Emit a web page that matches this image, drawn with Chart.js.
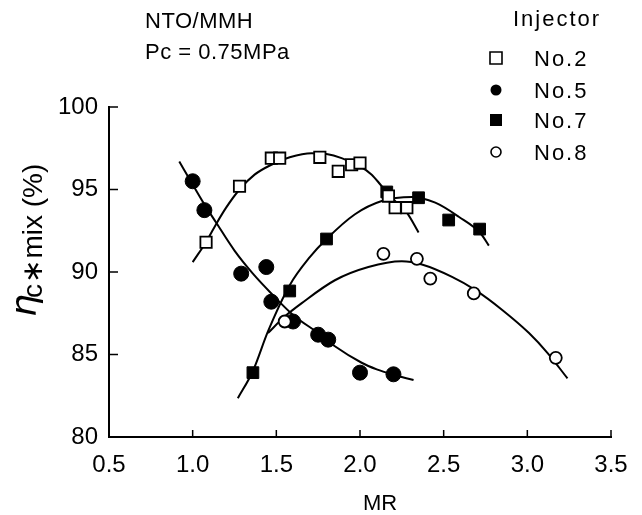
<!DOCTYPE html>
<html lang="en">
<head>
  <meta charset="UTF-8">
  <title>ηc*mix vs MR</title>
  <script src="https://cdn.jsdelivr.net/npm/chart.js"></script>
  <style>
    * { box-sizing: border-box; }
    body { margin: 0; background: #fff; }
    .wrap { width: 642px; height: 515px; }
  </style>
</head>
<body>
  <div class="wrap"><canvas id="grafico" width="642" height="515"></canvas></div>

  <script>
    // ticks
    const xTicks = [0.5, 1.0, 1.5, 2.0, 2.5, 3.0, 3.5];
    const yTicks = [80, 85, 90, 95, 100];

    // measured points per injector (MR, eta)
    const no2MR  = [1.08, 1.28, 1.47, 1.52, 1.76, 1.87, 1.95, 2.00, 2.17, 2.21, 2.28];
    const no2Eta = [91.8, 95.2, 96.9, 96.9, 96.95, 96.1, 96.5, 96.6, 94.6, 93.9, 93.9];

    const no5MR  = [1.00, 1.07, 1.29, 1.44, 1.47, 1.60, 1.75, 1.81, 2.00, 2.20];
    const no5Eta = [95.5, 93.75, 89.9, 90.3, 88.2, 87.0, 86.2, 85.9, 83.9, 83.8];

    const no7MR  = [1.36, 1.58, 1.80, 2.16, 2.35, 2.53, 2.715];
    const no7Eta = [83.9, 88.85, 92.0, 94.85, 94.5, 93.15, 92.6];

    const no8MR  = [1.55, 2.14, 2.34, 2.42, 2.68, 3.17];
    const no8Eta = [87.0, 91.1, 90.8, 89.6, 88.7, 84.8];

    // hand-drawn fit curves
    const fit2MR  = [1.00, 1.085, 1.14, 1.20, 1.28, 1.37, 1.47, 1.58, 1.71, 1.80, 1.89, 2.00, 2.07, 2.13, 2.20, 2.28, 2.35];
    const fit2Eta = [90.6, 91.9, 92.9, 93.9, 95.0, 95.9, 96.5, 96.95, 97.2, 97.15, 96.9, 96.4, 95.9, 95.2, 94.4, 93.6, 92.4];

    const fit5MR  = [0.92, 1.00, 1.07, 1.14, 1.25, 1.36, 1.47, 1.60, 1.75, 1.85, 2.01, 2.10, 2.19, 2.32];
    const fit5Eta = [96.7, 95.3, 94.1, 93.0, 91.3, 89.9, 88.7, 87.4, 86.3, 85.5, 84.5, 84.1, 83.8, 83.45];

    const fit7MR  = [1.27, 1.36, 1.45, 1.58, 1.70, 1.80, 1.97, 2.13, 2.31, 2.45, 2.59, 2.72, 2.77];
    const fit7Eta = [82.35, 84.0, 86.4, 89.2, 90.9, 92.0, 93.5, 94.3, 94.55, 94.2, 93.35, 92.35, 91.6];

    const fit8MR  = [1.45, 1.55, 1.65, 1.85, 2.05, 2.25, 2.37, 2.55, 2.69, 2.85, 3.01, 3.12, 3.24];
    const fit8Eta = [86.3, 87.3, 88.1, 89.5, 90.3, 90.65, 90.45, 89.7, 88.9, 87.7, 86.3, 85.1, 83.55];

    const pares = (xs, ys) => xs.map((v, i) => ({ x: v, y: ys[i] }));

    const fonte = '"Liberation Sans", Arial, sans-serif';

    const curva = (xs, ys) => ({
      type: 'line',
      data: pares(xs, ys),
      borderColor: '#000',
      borderWidth: 2,
      pointRadius: 0,
      cubicInterpolationMode: 'monotone',
      fill: false,
      order: 10
    });

    const pontos = (xs, ys, estilo, raio, cheio, ordem) => ({
      type: 'scatter',
      data: pares(xs, ys),
      pointStyle: estilo,
      pointRadius: raio,
      pointHoverRadius: raio,
      backgroundColor: cheio ? '#000' : '#fff',
      borderColor: '#000',
      borderWidth: cheio ? 1 : 1.8,
      order: ordem
    });

    // texts, legend and inward tick marks
    const extras = {
      id: 'extras',
      afterDatasetsDraw(chart) {
        const { ctx, chartArea: a, scales: { x, y } } = chart;
        ctx.save();
        ctx.strokeStyle = '#000';
        ctx.lineWidth = 1.5;
        ctx.beginPath();
        yTicks.forEach(v => {
          const py = y.getPixelForValue(v);
          ctx.moveTo(a.left, py); ctx.lineTo(a.left + 9, py);
        });
        xTicks.forEach(v => {
          const px = x.getPixelForValue(v);
          ctx.moveTo(px, a.bottom); ctx.lineTo(px, a.bottom - 7);
        });
        ctx.stroke();
        ctx.restore();
      },
      afterDraw(chart) {
        const ctx = chart.ctx;
        ctx.save();
        ctx.fillStyle = '#000';
        ctx.textBaseline = 'alphabetic';
        ctx.textAlign = 'left';

        ctx.font = '22px ' + fonte;
        ctx.letterSpacing = '0.5px';
        ctx.fillText('NTO/MMH', 145, 28);
        ctx.fillText('Pc = 0.75MPa', 145, 59);

        ctx.font = '22px ' + fonte;
        ctx.letterSpacing = '2px';
        ctx.fillText('Injector', 513, 26);

        const linhas = [
          { t: 'No.2', y: 58, tipo: 'sq', cheio: false },
          { t: 'No.5', y: 90, tipo: 'ci', cheio: true },
          { t: 'No.7', y: 120, tipo: 'sq', cheio: true },
          { t: 'No.8', y: 152, tipo: 'ci', cheio: false }
        ];
        linhas.forEach(l => {
          ctx.fillText(l.t, 534, l.y + 8);
          ctx.beginPath();
          if (l.tipo === 'sq') ctx.rect(496 - 6, l.y - 6, 12, 12);
          else ctx.arc(496, l.y, l.cheio ? 5.5 : 5, 0, Math.PI * 2);
          if (l.cheio) { ctx.fill(); }
          else { ctx.lineWidth = 1.6; ctx.stroke(); }
        });

        // x title
        ctx.letterSpacing = '0px';
        ctx.font = '22px ' + fonte;
        ctx.textAlign = 'center';
        ctx.fillText('MR', 380, 510);

        // y title, rotated
        ctx.translate(42, 317);
        ctx.rotate(-Math.PI / 2);
        ctx.textAlign = 'left';
        ctx.font = 'italic 36px "DejaVu Sans", sans-serif';
        ctx.fillText('η', 0, -6);
        let pos = 19;
        ctx.font = '28px ' + fonte;
        ctx.fillText('c', pos, 0);
        pos += ctx.measureText('c').width + 1;
        ctx.font = '28px "DejaVu Sans", sans-serif';
        ctx.fillText('∗', pos, 0);
        pos += ctx.measureText('∗').width + 1;
        ctx.font = '28px ' + fonte;
        ctx.fillText('mix (%)', pos, 0);
        ctx.restore();
      }
    };

    new Chart(document.getElementById('grafico'), {
      data: {
        datasets: [
          curva(fit2MR, fit2Eta),
          curva(fit5MR, fit5Eta),
          curva(fit7MR, fit7Eta),
          curva(fit8MR, fit8Eta),
          pontos(no5MR, no5Eta, 'circle', 7.5, true, 5),
          pontos(no7MR, no7Eta, 'rect', 8.3, true, 4),
          pontos(no8MR, no8Eta, 'circle', 6, false, 2),
          pontos(no2MR, no2Eta, 'rect', 8, false, 1)
        ]
      },
      options: {
        responsive: false,
        animation: false,
        events: [],
        layout: { padding: { top: 107, right: 31, bottom: 0, left: 0 } },
        plugins: {
          legend: { display: false },
          tooltip: { enabled: false }
        },
        scales: {
          x: {
            type: 'linear',
            min: 0.5,
            max: 3.5,
            afterBuildTicks: s => { s.ticks = xTicks.map(v => ({ value: v })); },
            afterFit: s => { s.height = 78; },
            grid: { display: false, drawTicks: false },
            border: { display: true, color: '#000', width: 2 },
            ticks: {
              color: '#000',
              padding: 14,
              maxRotation: 0,
              font: { family: fonte, size: 24 },
              callback: v => Number(v).toFixed(1)
            }
          },
          y: {
            type: 'linear',
            min: 80,
            max: 100,
            afterBuildTicks: s => { s.ticks = yTicks.map(v => ({ value: v })); },
            afterFit: s => { s.width = 109; },
            grid: { display: false, drawTicks: false },
            border: { display: true, color: '#000', width: 2 },
            ticks: {
              color: '#000',
              padding: 11,
              font: { family: fonte, size: 24 },
              callback: v => String(v)
            }
          }
        }
      },
      plugins: [extras]
    });
  </script>
</body>
</html>
